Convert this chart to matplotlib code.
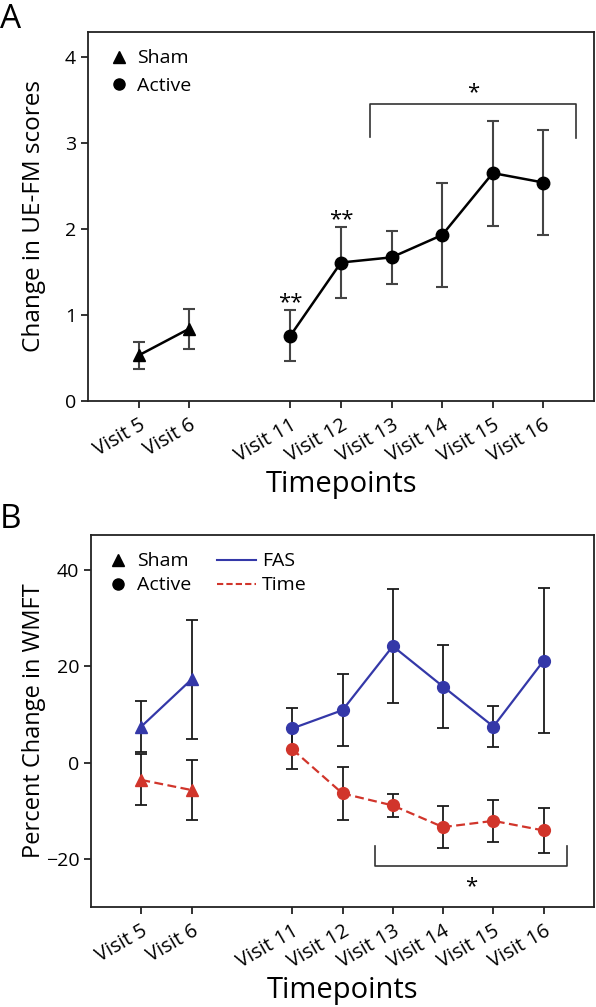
import matplotlib
matplotlib.use("Agg")
import matplotlib.pyplot as plt
import matplotlib.transforms as mtransforms
from matplotlib.lines import Line2D
import numpy as np

plt.rcParams['font.family'] = ['Open Sans', 'DejaVu Sans']

# ---------------- data ----------------
tick_labels = ["Visit 5", "Visit 6", "Visit 11", "Visit 12", "Visit 13",
               "Visit 14", "Visit 15", "Visit 16"]
sham_pos = [0, 1]
active_pos = [3, 4, 5, 6, 7, 8]

# Panel A: change in UE-FM scores
a_sham_mean = [0.53, 0.84]
a_sham_err = [0.16, 0.23]
a_active_mean = [0.76, 1.61, 1.67, 1.93, 2.65, 2.54]
a_active_err = [0.30, 0.41, 0.31, 0.60, 0.61, 0.61]

# Panel B: percent change in WMFT
b_sham_fas = [7.5, 17.3]
b_sham_fas_err = [5.3, 12.3]
b_sham_time = [-3.6, -5.7]
b_sham_time_err = [5.3, 6.2]
b_active_fas = [7.1, 10.9, 24.2, 15.8, 7.5, 21.2]
b_active_fas_err = [4.3, 7.5, 11.8, 8.7, 4.2, 15.0]
b_active_time = [2.8, -6.4, -8.9, -13.4, -12.1, -14.1]
b_active_time_err = [4.2, 5.5, 2.4, 4.4, 4.4, 4.7]

BLUE = '#3438a8'
RED = '#d1352b'

fig = plt.figure(figsize=(5.96, 10.07), dpi=100)
W, H = 596, 1007

def px_axes(l, t, r, b):
    return fig.add_axes([l / W, 1 - b / H, (r - l) / W, (b - t) / H])

axA = px_axes(88, 32, 594, 401)
axB = px_axes(91, 535, 594, 907)

def style(ax, ylabel_x):
    ax.set_xlim(-1, 9)
    ax.set_xticks(sham_pos + active_pos)
    ax.set_xticklabels(tick_labels, rotation=30, ha='right', va='top',
                       rotation_mode='anchor', fontsize=14.5)
    shift = mtransforms.ScaledTranslation(10 / 100, 0, fig.dpi_scale_trans)
    for lab in ax.get_xticklabels():
        lab.set_transform(lab.get_transform() + shift)
    for s in ax.spines.values():
        s.set_linewidth(1.3)
        s.set_color('#222222')
    ax.tick_params(axis='both', direction='out', length=5, width=1.3,
                   colors='#222222', labelcolor='black')
    ax.tick_params(axis='y', labelsize=14)
    ax.tick_params(axis='x', pad=5)
    ax.set_xlabel("Timepoints", fontsize=21, labelpad=3)
    ax.yaxis.set_label_coords(ylabel_x, 0.5)

# ---------------- Panel A ----------------
ekwA = dict(ecolor='#444444', elinewidth=1.5, capsize=4.5, capthick=1.5)
axA.errorbar(sham_pos, a_sham_mean, yerr=a_sham_err, color='black',
             marker='^', markersize=9, lw=1.8, **ekwA)
axA.errorbar(active_pos, a_active_mean, yerr=a_active_err, color='black',
             marker='o', markersize=9, lw=1.8, **ekwA)
axA.set_ylim(0, 4.29)
axA.set_yticks([0, 1, 2, 3, 4])
axA.set_ylabel("Change in UE-FM scores", fontsize=17.5)
style(axA, -0.083)

# significance marks
axA.text(active_pos[0], a_active_mean[0] + a_active_err[0] - 0.04, "**",
         ha='center', va='bottom', fontsize=16)
axA.text(active_pos[1], a_active_mean[1] + a_active_err[1] - 0.04, "**",
         ha='center', va='bottom', fontsize=16)
bx0, bx1 = active_pos[2] - 0.42, active_pos[5] + 0.65
axA.plot([bx0, bx0, bx1, bx1], [3.07, 3.45, 3.45, 3.06], color='#333333', lw=1.2)
axA.text((bx0 + bx1) / 2, 3.46, "*", ha='center', va='bottom', fontsize=16)

axA.legend(handles=[
    Line2D([], [], ls='none', marker='^', color='black', markersize=8, label='Sham'),
    Line2D([], [], ls='none', marker='o', color='black', markersize=8, label='Active')],
    loc='upper left', bbox_to_anchor=(0.007, 1.0), frameon=False,
    fontsize=14, handlelength=1.0, handletextpad=0.45, labelspacing=0.5)

# ---------------- Panel B ----------------
ekwB = dict(ecolor='#1a1a1a', elinewidth=1.3, capsize=4.5, capthick=1.3)
axB.errorbar(sham_pos, b_sham_fas, yerr=b_sham_fas_err, color=BLUE,
             marker='^', markersize=8.5, lw=1.6, **ekwB)
axB.errorbar(sham_pos, b_sham_time, yerr=b_sham_time_err, color=RED,
             marker='^', markersize=8.5, lw=1.6, ls=(0, (4, 2)), **ekwB)
axB.errorbar(active_pos, b_active_fas, yerr=b_active_fas_err, color=BLUE,
             marker='o', markersize=8.5, lw=1.6, **ekwB)
axB.errorbar(active_pos, b_active_time, yerr=b_active_time_err, color=RED,
             marker='o', markersize=8.5, lw=1.6, ls=(0, (4, 2)), **ekwB)
axB.set_ylim(-30, 47.3)
axB.set_yticks([-20, 0, 20, 40])
axB.set_ylabel("Percent Change in WMFT", fontsize=17)
style(axB, -0.089)

cx0, cx1 = active_pos[2] - 0.35, active_pos[5] + 0.46
axB.plot([cx0, cx0, cx1, cx1], [-17.3, -21.5, -21.5, -17.3], color='#333333', lw=1.2)
axB.text((cx0 + cx1) / 2, -23.6, "*", ha='center', va='top', fontsize=16)

leg1 = axB.legend(handles=[
    Line2D([], [], ls='none', marker='^', color='black', markersize=8, label='Sham'),
    Line2D([], [], ls='none', marker='o', color='black', markersize=8, label='Active')],
    loc='upper left', bbox_to_anchor=(0.0, 1.0), frameon=False,
    fontsize=14, handlelength=1.0, handletextpad=0.45, labelspacing=0.3)
axB.add_artist(leg1)
axB.legend(handles=[
    Line2D([], [], color=BLUE, lw=1.5, label='FAS'),
    Line2D([], [], color=RED, lw=1.5, ls=(0, (3, 1.5)), label='Time')],
    loc='upper left', bbox_to_anchor=(0.215, 1.0), frameon=False,
    fontsize=14, handlelength=2.0, handletextpad=0.35, labelspacing=0.3)

# panel letters
fig.text(0 / W, 1 - 28 / H, "A", fontsize=24, ha='left', va='baseline')
fig.text(0 / W, 1 - 528 / H, "B", fontsize=24, ha='left', va='baseline')

fig.savefig("out.png", dpi=100)
